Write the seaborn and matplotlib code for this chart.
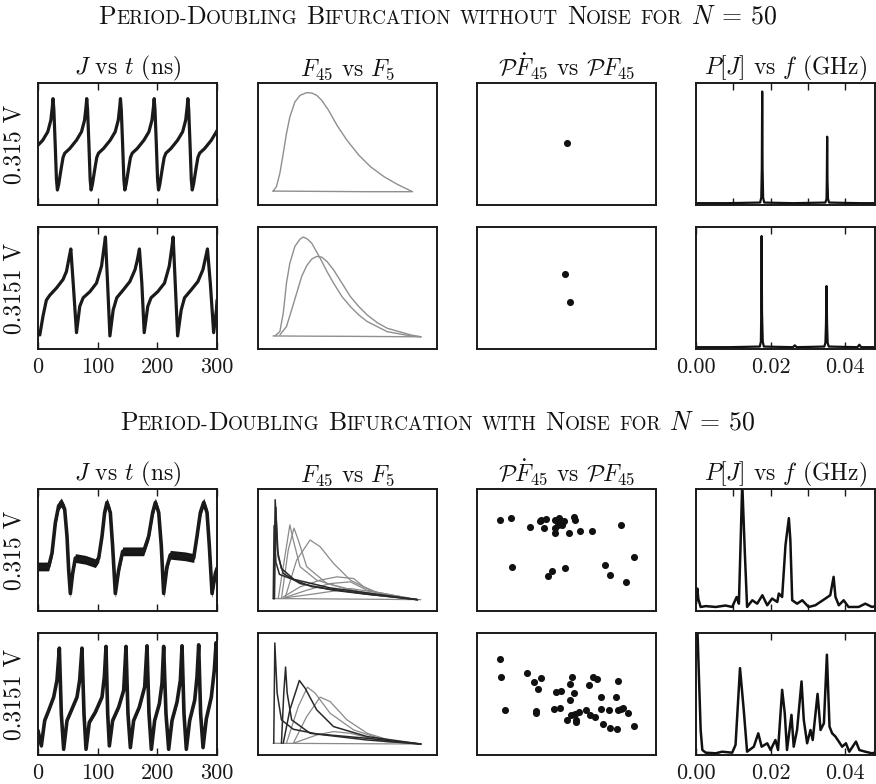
import numpy as np
import pandas as pd
import matplotlib
matplotlib.use("Agg")
import matplotlib.pyplot as plt
import seaborn as sns
from matplotlib.offsetbox import TextArea, HPacker, AnnotationBbox

sns.set_style("white")
plt.rcParams["font.family"] = ["cmr10", "DejaVu Serif"]
plt.rcParams["mathtext.fontset"] = "cm"
plt.rcParams["axes.unicode_minus"] = False
plt.rcParams["axes.formatter.use_mathtext"] = True

# ---------------- data (normalised units) ----------------
voltages = ["0.315 V", "0.3151 V"]
col_titles = [r"$J$ vs $t$ (ns)", r"$F_{45}$ vs $F_5$",
              r"$\mathcal{P}\dot{F}_{45}$ vs $\mathcal{P}F_{45}$", r"$P[J]$ vs $f$ (GHz)"]

# J vs t, no noise, 0.315 V
t_clean_315 = [0, 8, 16.4, 21.5, 23.9, 25.2, 26.6, 28.8, 30.9,
               32.5, 34.7, 39.2, 42.0, 44.9, 53.3, 64.5, 72.9, 78.0, 80.4, 81.7, 83.1, 85.3, 87.4,
               89.0, 91.2, 95.7, 98.5, 101.4, 109.8, 121.0, 129.4, 134.5, 136.9, 138.2, 139.6, 141.8, 143.9,
               145.5, 147.7, 152.2, 155.0, 157.9, 166.3, 177.5, 185.9, 191.0, 193.4, 194.7, 196.1, 198.3, 200.4,
               202.0, 204.2, 208.7, 211.5, 214.4, 222.8, 234.0, 242.4, 247.5, 249.9, 251.2, 252.6, 254.8, 256.9,
               258.5, 260.7, 265.2, 268.0, 270.9, 279.3, 290.5, 298.9, 300]
j_clean_315 = [0.49, 0.531, 0.60, 0.695, 0.80, 0.872, 0.78, 0.50, 0.21,
               0.123, 0.17, 0.31, 0.39, 0.425, 0.463, 0.531, 0.60, 0.695, 0.80, 0.872, 0.78, 0.50, 0.21,
               0.123, 0.17, 0.31, 0.39, 0.425, 0.463, 0.531, 0.60, 0.695, 0.80, 0.872, 0.78, 0.50, 0.21,
               0.123, 0.17, 0.31, 0.39, 0.425, 0.463, 0.531, 0.60, 0.695, 0.80, 0.872, 0.78, 0.50, 0.21,
               0.123, 0.17, 0.31, 0.39, 0.425, 0.463, 0.531, 0.60, 0.695, 0.80, 0.872, 0.78, 0.50, 0.21,
               0.123, 0.17, 0.31, 0.39, 0.425, 0.463, 0.531, 0.60, 0.61]

# J vs t, no noise, 0.3151 V
t_clean_3151 = [0, 3, 8.4, 14, 19.6, 31, 42, 47.7, 52, 55, 59, 64.5, 70, 75.7, 87, 98, 106.5, 110, 113,
                116.6, 120.5, 126, 132, 143, 154, 162.6, 166.5, 170, 174, 178, 184, 189.5, 200.7, 212, 220,
                223.7, 226.5, 230, 234, 240, 245.6, 256.8, 268, 276.4, 280, 284, 288.8, 294.4, 299, 300]
j_clean_3151 = [0.14, 0.115, 0.27, 0.40, 0.44, 0.50, 0.57, 0.636, 0.745, 0.82, 0.54, 0.134,
                0.35, 0.42, 0.47, 0.54, 0.68, 0.81, 0.918, 0.54, 0.107,
                0.32, 0.42, 0.485, 0.553, 0.65, 0.73, 0.82, 0.54, 0.134,
                0.35, 0.42, 0.47, 0.54, 0.68, 0.81, 0.918, 0.54, 0.107,
                0.32, 0.42, 0.485, 0.553, 0.65, 0.73, 0.82, 0.54, 0.134, 0.32, 0.40]

# J vs t, with noise (centre of the noisy band)
t_noise_315 = [0, 17.9, 23.5, 29.1, 34.6, 39.1, 44.7, 48.6, 51.4, 54.2, 58.1, 62.6, 79.3, 96.1, 101.7,
               107.3, 111.7, 115.6, 121.2, 125.1, 129.6, 135.2, 141.9, 163.1, 177.1, 185.5, 192.2, 196.7,
               202.3, 206.7, 210.6, 216.2, 221.8, 246.9, 260.9, 266.5, 272.1, 277.7, 283.3, 287.2, 291.7,
               297.3, 300]
j_noise_315 = [0.365, 0.365, 0.475, 0.724, 0.862, 0.89, 0.834, 0.613, 0.337, 0.144,
               0.309, 0.434, 0.42, 0.392, 0.434, 0.613, 0.807, 0.89, 0.807, 0.53,
               0.144, 0.337, 0.489, 0.489, 0.489, 0.613, 0.807, 0.89, 0.807, 0.53,
               0.144, 0.365, 0.461, 0.448, 0.434, 0.613, 0.807, 0.89, 0.807, 0.53,
               0.144, 0.309, 0.35]

t_noise_3151 = [0, 5.6, 11.2, 17.9, 26.3, 31.8, 35.8, 39.1, 43.0, 48.6, 57.0, 65.4, 69.8, 73.7, 77.1,
                80.5, 86.0, 96.1, 107.3, 111.2, 114.0, 116.8, 119.6, 125.1, 135.2, 143.6, 147.5, 150.8,
                154.8, 160.3, 169.8, 178.8, 182.7, 186.0, 190.0, 195.5, 203.4, 207.8, 210.6, 214.5, 219.0,
                224.6, 233.0, 238.6, 241.4, 244.7, 248.6, 254.2, 262.6, 266.5, 269.3, 272.6, 276.6, 282.1,
                290.5, 295.5, 298.5, 300]
j_noise_3151 = [0.2, 0.075, 0.282, 0.365, 0.475, 0.613, 0.876, 0.337, 0.047,
                0.282, 0.378, 0.475, 0.613, 0.876, 0.337, 0.047,
                0.268, 0.351, 0.475, 0.641, 0.89, 0.337, 0.075,
                0.282, 0.392, 0.53, 0.89, 0.337, 0.061,
                0.282, 0.392, 0.558, 0.895, 0.337, 0.047,
                0.282, 0.42, 0.586, 0.89, 0.337, 0.047,
                0.282, 0.434, 0.613, 0.895, 0.337, 0.047,
                0.282, 0.448, 0.641, 0.903, 0.337, 0.061,
                0.296, 0.475, 0.696, 0.92, 0.7]

# F45 vs F5 loops (one list per loop)
f5_clean_315 = [[0.084, 0.103, 0.122, 0.141, 0.159, 0.178, 0.206, 0.235, 0.272, 0.30, 0.328, 0.356, 0.394,
                 0.441, 0.497, 0.563, 0.629, 0.704, 0.779, 0.863, 0.61, 0.30, 0.084]]
f45_clean_315 = [[0.114, 0.150, 0.259, 0.422, 0.586, 0.722, 0.845, 0.899, 0.921, 0.918, 0.899, 0.858, 0.777,
                  0.654, 0.531, 0.409, 0.313, 0.232, 0.169, 0.109, 0.109, 0.112, 0.114]]

f5_clean_3151 = [[0.094, 0.122, 0.141, 0.159, 0.178, 0.206, 0.235, 0.253, 0.276, 0.30, 0.347, 0.385, 0.422,
                  0.469, 0.516, 0.563, 0.61, 0.722, 0.854, 0.91],
                 [0.122, 0.159, 0.188, 0.216, 0.244, 0.272, 0.30, 0.328, 0.356, 0.385, 0.422, 0.469, 0.516,
                  0.563, 0.61, 0.666, 0.722, 0.854, 0.91],
                 [0.91, 0.70, 0.50, 0.30, 0.084]]
f45_clean_3151 = [[0.107, 0.142, 0.293, 0.54, 0.704, 0.841, 0.901, 0.918, 0.901, 0.868, 0.745, 0.636, 0.54,
                   0.43, 0.348, 0.279, 0.225, 0.142, 0.107, 0.10],
                  [0.115, 0.184, 0.321, 0.458, 0.595, 0.682, 0.737, 0.759, 0.753, 0.718, 0.649, 0.54, 0.43,
                   0.348, 0.279, 0.216, 0.17, 0.115, 0.10],
                  [0.10, 0.102, 0.104, 0.105, 0.107]]

f5_noise_315 = [[0.088, 0.096, 0.113, 0.141, 0.235, 0.422, 0.61, 0.891],
                [0.092, 0.100, 0.108, 0.13, 0.2, 0.4, 0.65, 0.891],
                [0.085, 0.090, 0.10, 0.12, 0.3, 0.6, 0.891],
                [0.113, 0.150, 0.178, 0.197, 0.235, 0.328, 0.516, 0.891],
                [0.131, 0.169, 0.201, 0.225, 0.272, 0.385, 0.61, 0.891],
                [0.150, 0.216, 0.291, 0.347, 0.422, 0.516, 0.647, 0.891],
                [0.141, 0.235, 0.347, 0.441, 0.535, 0.591, 0.704, 0.891],
                [0.159, 0.272, 0.403, 0.516, 0.61, 0.797],
                [0.122, 0.328, 0.516, 0.704, 0.891],
                [0.91, 0.50, 0.084]]
f45_noise_315 = [[0.102, 0.912, 0.445, 0.308, 0.225, 0.170, 0.137, 0.093],
                 [0.10, 0.85, 0.50, 0.35, 0.26, 0.19, 0.14, 0.093],
                 [0.10, 0.70, 0.40, 0.30, 0.20, 0.14, 0.093],
                 [0.102, 0.445, 0.706, 0.582, 0.363, 0.253, 0.170, 0.093],
                 [0.102, 0.50, 0.679, 0.582, 0.363, 0.225, 0.143, 0.093],
                 [0.102, 0.418, 0.582, 0.527, 0.39, 0.253, 0.157, 0.093],
                 [0.115, 0.198, 0.253, 0.280, 0.266, 0.198, 0.129, 0.093],
                 [0.115, 0.170, 0.225, 0.239, 0.170, 0.115],
                 [0.102, 0.143, 0.184, 0.143, 0.093],
                 [0.093, 0.098, 0.102]]

f5_noise_3151 = [[0.088, 0.094, 0.107, 0.131, 0.197, 0.328, 0.61, 0.91],
                 [0.131, 0.144, 0.154, 0.163, 0.188, 0.291, 0.61, 0.91],
                 [0.141, 0.178, 0.231, 0.263, 0.328, 0.422, 0.61, 0.91],
                 [0.159, 0.225, 0.276, 0.319, 0.403, 0.535, 0.704, 0.91],
                 [0.197, 0.272, 0.347, 0.403, 0.497, 0.61, 0.76, 0.91],
                 [0.197, 0.328, 0.422, 0.516, 0.704, 0.91],
                 [0.91, 0.50, 0.084]]
f45_noise_3151 = [[0.096, 0.918, 0.507, 0.288, 0.211, 0.173, 0.137, 0.09],
                  [0.096, 0.507, 0.721, 0.507, 0.288, 0.178, 0.123, 0.09],
                  [0.096, 0.37, 0.611, 0.548, 0.37, 0.233, 0.151, 0.09],
                  [0.096, 0.397, 0.556, 0.507, 0.342, 0.205, 0.123, 0.09],
                  [0.096, 0.315, 0.474, 0.438, 0.288, 0.178, 0.11, 0.09],
                  [0.096, 0.164, 0.192, 0.178, 0.11, 0.09],
                  [0.09, 0.093, 0.096]]

# Poincare sections
pf_clean_315 = [0.504]
pfdot_clean_315 = [0.508]
pf_clean_3151 = [0.494, 0.517]
pfdot_clean_3151 = [0.615, 0.388]
pf_noise_315 = [0.129, 0.191, 0.296, 0.351, 0.358, 0.383, 0.373, 0.437, 0.456, 0.465, 0.450, 0.437, 0.433,
                0.469, 0.484, 0.512, 0.540, 0.550, 0.578, 0.644, 0.805, 0.878, 0.193, 0.394, 0.418, 0.492,
                0.715, 0.743, 0.835, 0.475]
pfdot_noise_315 = [0.747, 0.764, 0.692, 0.739, 0.747, 0.753, 0.681, 0.742, 0.761, 0.747, 0.706, 0.679, 0.643,
                   0.725, 0.734, 0.643, 0.769, 0.742, 0.659, 0.659, 0.709, 0.442, 0.357, 0.286, 0.330, 0.349,
                   0.376, 0.294, 0.239, 0.706]
pf_noise_3151 = [0.129, 0.135, 0.159, 0.281, 0.319, 0.356, 0.340, 0.330, 0.330, 0.428, 0.465, 0.443, 0.469,
                 0.533, 0.522, 0.544, 0.518, 0.503, 0.527, 0.550, 0.555, 0.555, 0.568, 0.608, 0.627, 0.649,
                 0.668, 0.634, 0.660, 0.694, 0.692, 0.702, 0.739, 0.743, 0.779, 0.788, 0.786, 0.784, 0.805,
                 0.816, 0.846, 0.878]
pfdot_noise_3151 = [0.789, 0.638, 0.370, 0.671, 0.600, 0.633, 0.537, 0.362, 0.342, 0.378, 0.386, 0.518, 0.526,
                    0.641, 0.578, 0.512, 0.447, 0.288, 0.326, 0.337, 0.288, 0.271, 0.351, 0.370, 0.573, 0.641,
                    0.627, 0.326, 0.310, 0.474, 0.378, 0.258, 0.370, 0.225, 0.474, 0.605, 0.370, 0.216, 0.381,
                    0.386, 0.345, 0.241]

# power spectra
f_clean_315 = [0.0, 0.008, 0.0172, 0.0175, 0.01765, 0.01775, 0.01785, 0.0180, 0.0183, 0.026,
               0.0347, 0.0350, 0.03508, 0.03517, 0.03526, 0.0354, 0.0357, 0.044, 0.048]
p_clean_315 = [0.015, 0.015, 0.02, 0.06, 0.3, 0.93, 0.3, 0.06, 0.02, 0.015,
               0.02, 0.05, 0.2, 0.56, 0.2, 0.05, 0.02, 0.015, 0.015]
f_clean_3151 = [0.0, 0.009, 0.0171, 0.0174, 0.01750, 0.0176, 0.0177, 0.0179, 0.0182, 0.026, 0.0265, 0.027,
                0.0344, 0.0347, 0.03485, 0.0350, 0.03515, 0.0353, 0.0356, 0.0433, 0.0438, 0.0443, 0.048]
p_clean_3151 = [0.015, 0.015, 0.02, 0.06, 0.3, 0.926, 0.3, 0.06, 0.02, 0.015, 0.03, 0.015,
                0.02, 0.05, 0.2, 0.516, 0.2, 0.05, 0.02, 0.015, 0.035, 0.015, 0.015]
f_noise_315 = [0.0, 0.00036, 0.00062, 0.00125, 0.0026, 0.0053, 0.0079, 0.0097, 0.0109, 0.0115,
               0.0120, 0.0124, 0.0131, 0.0137, 0.0151, 0.0164, 0.0178, 0.0191, 0.0204, 0.0218,
               0.0222, 0.0231, 0.0240, 0.0249, 0.0253, 0.0258, 0.0271, 0.0285, 0.0302, 0.0320,
               0.0347, 0.0360, 0.0369, 0.0374, 0.0383, 0.0396, 0.0409, 0.0436, 0.0454, 0.0472, 0.048]
p_noise_315 = [0.06, 0.184, 0.10, 0.033, 0.04, 0.033, 0.045, 0.033, 0.115, 0.06,
               0.6, 1.05, 0.473, 0.033, 0.088, 0.06, 0.129, 0.047, 0.102, 0.074,
               0.143, 0.115, 0.541, 0.761, 0.582, 0.088, 0.06, 0.088, 0.033, 0.047,
               0.102, 0.129, 0.28, 0.115, 0.047, 0.088, 0.033, 0.033, 0.06, 0.033, 0.04]
f_noise_3151 = [0.0, 0.00036, 0.00125, 0.0017, 0.0026, 0.0053, 0.0070, 0.0097, 0.0106, 0.0118,
                0.0128, 0.0137, 0.0155, 0.0167, 0.0176, 0.0191, 0.0200, 0.0213, 0.0220, 0.0231,
                0.0238, 0.0244, 0.0256, 0.0262, 0.0271, 0.0283, 0.0289, 0.0298, 0.0307, 0.0313,
                0.0326, 0.0334, 0.0343, 0.0351, 0.0358, 0.0365, 0.0374, 0.0383, 0.0392, 0.0402,
                0.0411, 0.0429, 0.0438, 0.0454, 0.0472, 0.048]
p_noise_3151 = [1.05, 1.05, 0.205, 0.041, 0.019, 0.014, 0.027, 0.019, 0.082, 0.712,
                0.37, 0.027, 0.068, 0.178, 0.068, 0.096, 0.041, 0.123, 0.041, 0.534,
                0.342, 0.041, 0.329, 0.068, 0.205, 0.603, 0.288, 0.096, 0.205, 0.123,
                0.501, 0.205, 0.26, 0.822, 0.233, 0.178, 0.151, 0.11, 0.068, 0.096,
                0.027, 0.11, 0.041, 0.027, 0.014, 0.02]

# ---------------- layout ----------------
W, H = 876, 784
fig = plt.figure(figsize=(W / 100, H / 100), dpi=100)
col_x = [38, 258, 477, 696]
row_y = [83, 227, 489, 633]
pw, ph = 179, 122
TXT = 17


def make_ax(r, c):
    return fig.add_axes([col_x[c] / W, 1 - (row_y[r] + ph) / H, pw / W, ph / H])


def frame(ax):
    for s in ax.spines.values():
        s.set_linewidth(1.4)
        s.set_color("#1a1a1a")
    ax.set_xlabel("")
    ax.set_ylabel("")
    ax.set_yticks([])


def loops_df(xs, ys):
    rows = []
    for k, (a, b) in enumerate(zip(xs, ys)):
        for i, (u, v) in enumerate(zip(a, b)):
            rows.append((k, i, u, v))
    return pd.DataFrame(rows, columns=["loop", "i", "x", "y"])


def small_caps(words, tail, yfrac, big=18.6, small=13.8):
    boxes = []
    for w in words:
        runs = []
        for ch in w:
            size = big if ch.isupper() else small
            if runs and runs[-1][1] == size:
                runs[-1][0] += ch.upper()
            else:
                runs.append([ch.upper(), size])
        boxes.append(HPacker(children=[TextArea(s, textprops=dict(fontsize=z, color="#111"))
                                       for s, z in runs], align="baseline", pad=0, sep=0))
    boxes.append(TextArea(tail, textprops=dict(fontsize=big, color="#111")))
    box = HPacker(children=boxes, align="baseline", pad=0, sep=6.2)
    ab = AnnotationBbox(box, (0.5, yfrac), xycoords="figure fraction", frameon=False,
                        box_alignment=(0.5, 0.5), pad=0)
    fig.add_artist(ab)


small_caps(["Period-Doubling", "Bifurcation", "without", "Noise", "for"], r"$N\:=\:50$", 1 - 17 / H)
small_caps(["Period-Doubling", "Bifurcation", "with", "Noise", "for"], r"$N\:=\:50$", 1 - 423 / H)

J_t = [(t_clean_315, j_clean_315, 0), (t_clean_3151, j_clean_3151, 0),
       (t_noise_315, j_noise_315, 0.036), (t_noise_3151, j_noise_3151, 0.016)]
loops = [(f5_clean_315, f45_clean_315), (f5_clean_3151, f45_clean_3151),
         (f5_noise_315, f45_noise_315), (f5_noise_3151, f45_noise_3151)]
poinc = [(pf_clean_315, pfdot_clean_315), (pf_clean_3151, pfdot_clean_3151),
         (pf_noise_315, pfdot_noise_315), (pf_noise_3151, pfdot_noise_3151)]
spectra = [(f_clean_315, p_clean_315), (f_clean_3151, p_clean_3151),
           (f_noise_315, p_noise_315), (f_noise_3151, p_noise_3151)]

for r in range(4):
    bottom_row = r in (1, 3)

    # column 1: J vs t
    ax = make_ax(r, 0)
    t, j, band = J_t[r]
    t = np.asarray(t); j = np.asarray(j)
    if band > 0:
        ax.fill_between(t, j - band, j + band, color="#161616", lw=0)
    sns.lineplot(x=t, y=j, ax=ax, color="#1a1a1a", lw=2.3 if band == 0 else 2.6,
                 sort=False, estimator=None)
    ax.set_xlim(0, 300)
    ax.set_ylim(0, 1)
    frame(ax)
    ax.set_xticks([0, 100, 200, 300])
    ax.set_xticklabels(["0", "100", "200", "300"])
    ax.tick_params(axis="x", direction="in", top=True, bottom=True, length=5, width=1.0,
                   labelsize=16, pad=6, labelbottom=bottom_row, colors="#1a1a1a")
    ax.set_ylabel(voltages[r % 2], fontsize=TXT, labelpad=9, color="#111")
    if r in (0, 2):
        ax.set_title(col_titles[0], fontsize=TXT, pad=5, color="#111")

    # column 2: F45 vs F5
    ax = make_ax(r, 1)
    df = loops_df(*loops[r])
    if r < 2:
        sns.lineplot(data=df, x="x", y="y", units="loop", estimator=None, sort=False,
                     ax=ax, color="#8f8f8f", lw=1.0)
    else:
        dark = df[df["loop"] < 3]
        light = df[df["loop"] >= 3]
        sns.lineplot(data=light, x="x", y="y", units="loop", estimator=None, sort=False,
                     ax=ax, color="#8a8a8a", lw=0.9)
        sns.lineplot(data=dark, x="x", y="y", units="loop", estimator=None, sort=False,
                     ax=ax, color="#2a2a2a", lw=1.1)
    ax.set_xlim(0, 1)
    ax.set_ylim(0, 1)
    frame(ax)
    ax.set_xticks([])
    if r in (0, 2):
        ax.set_title(col_titles[1], fontsize=TXT, pad=5, color="#111")

    # column 3: Poincare section
    ax = make_ax(r, 2)
    px, py = poinc[r]
    sns.scatterplot(x=px, y=py, ax=ax, s=26, color="#111", linewidth=0)
    ax.set_xlim(0, 1)
    ax.set_ylim(0, 1)
    frame(ax)
    ax.set_xticks([])
    if r in (0, 2):
        ax.set_title(col_titles[2], fontsize=TXT, pad=5, color="#111")

    # column 4: power spectrum
    ax = make_ax(r, 3)
    f, p = spectra[r]
    sns.lineplot(x=f, y=p, ax=ax, color="#111", lw=1.6 if r < 2 else 1.8,
                 sort=False, estimator=None)
    ax.set_xlim(0, 0.048)
    ax.set_ylim(0, 1)
    frame(ax)
    if bottom_row:
        ax.set_xticks([0.0, 0.02, 0.04])
        ax.set_xticklabels(["0.00", "0.02", "0.04"])
    else:
        ax.set_xticks([0.01, 0.02, 0.03, 0.04])
    ax.tick_params(axis="x", direction="in", top=True, bottom=True, length=5, width=1.0,
                   labelsize=16, pad=6, labelbottom=bottom_row, colors="#1a1a1a")
    if r in (0, 2):
        ax.set_title(col_titles[3], fontsize=TXT, pad=5, color="#111")

fig.savefig("out.png", dpi=100)
